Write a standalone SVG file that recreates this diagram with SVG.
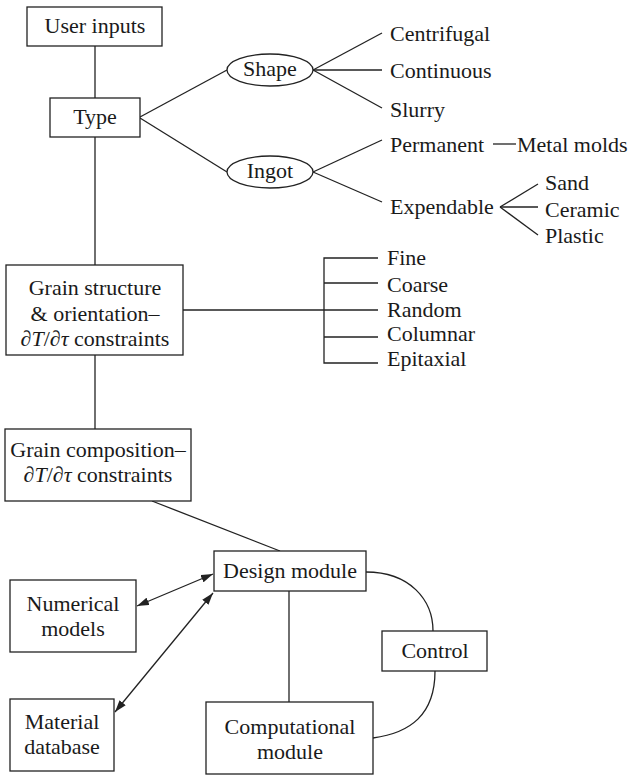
<svg xmlns="http://www.w3.org/2000/svg" width="629" height="775" viewBox="0 0 629 775" font-family="'Liberation Serif', 'Times New Roman', serif" font-size="22">
<style>
.b{fill:#fff;stroke:#222;stroke-width:1.3}
.l{fill:none;stroke:#222;stroke-width:1.3}
text{fill:#1a1a1a}
.c{text-anchor:middle}
.i{font-style:italic}
</style>
<defs>
<marker id="ah" viewBox="0 0 12 8" refX="12" refY="4" markerWidth="12" markerHeight="8" markerUnits="userSpaceOnUse" orient="auto-start-reverse">
<path d="M0,0 L12,4 L0,8 Z" fill="#222"/>
</marker>
</defs>
<g id="connectors">
<line class="l" x1="95" y1="46" x2="95" y2="98"/>
<line class="l" x1="95" y1="137" x2="95" y2="265"/>
<line class="l" x1="95" y1="355" x2="95" y2="429"/>
<line class="l" x1="140" y1="117" x2="227" y2="70"/>
<line class="l" x1="140" y1="118" x2="227" y2="172"/>
<line class="l" x1="313" y1="70" x2="382" y2="33"/>
<line class="l" x1="313" y1="70" x2="382" y2="70"/>
<line class="l" x1="313" y1="70" x2="382" y2="108"/>
<line class="l" x1="313" y1="172" x2="382" y2="140"/>
<line class="l" x1="313" y1="172" x2="382" y2="202"/>
<line class="l" x1="493" y1="144" x2="516" y2="144"/>
<line class="l" x1="538" y1="184" x2="500" y2="207"/>
<line class="l" x1="500" y1="207" x2="538" y2="207"/>
<line class="l" x1="500" y1="207" x2="538" y2="235"/>
<line class="l" x1="183" y1="310" x2="378" y2="310"/>
<path class="l" d="M378,258 H324 V363 H378 M324,283 H378 M324,337 H378"/>
<line class="l" x1="152" y1="501" x2="280" y2="551"/>
<line class="l" x1="137" y1="606" x2="213" y2="574" marker-start="url(#ah)" marker-end="url(#ah)"/>
<line class="l" x1="115" y1="712" x2="213" y2="593" marker-start="url(#ah)" marker-end="url(#ah)"/>
<line class="l" x1="289" y1="591" x2="289" y2="702"/>
<path class="l" d="M366,572 C410,572 433,600 433,631"/>
<path class="l" d="M435,671 C435,715 410,733 373,738"/>
</g>
<g id="user-inputs"><rect class="b" x="27" y="7" width="135" height="39"/><text class="c" x="95" y="33">User inputs</text></g>
<g id="type"><rect class="b" x="50" y="98" width="90" height="39"/><text class="c" x="95" y="124">Type</text></g>
<g id="shape"><ellipse class="b" cx="270" cy="70" rx="43" ry="16"/><text class="c" x="270" y="76">Shape</text></g>
<g id="ingot"><ellipse class="b" cx="270" cy="172" rx="43" ry="16"/><text class="c" x="270" y="178">Ingot</text></g>
<g id="centrifugal"><text x="390" y="41">Centrifugal</text></g>
<g id="continuous"><text x="390" y="78">Continuous</text></g>
<g id="slurry"><text x="390" y="117">Slurry</text></g>
<g id="permanent"><text x="390" y="152">Permanent</text></g>
<g id="metal-molds"><text x="517" y="152">Metal molds</text></g>
<g id="expendable"><text x="390" y="214">Expendable</text></g>
<g id="sand"><text x="545" y="190">Sand</text></g>
<g id="ceramic"><text x="545" y="217">Ceramic</text></g>
<g id="plastic"><text x="545" y="243">Plastic</text></g>
<g id="grain-structure"><rect class="b" x="6" y="265" width="177" height="90"/>
<text class="c" x="95" y="295">Grain structure</text>
<text class="c" x="95" y="321">&amp; orientation–</text>
<text class="c" x="95" y="346">∂<tspan class="i">T</tspan>/∂<tspan class="i">τ</tspan> constraints</text></g>
<g id="fine"><text x="387" y="265">Fine</text></g>
<g id="coarse"><text x="387" y="292">Coarse</text></g>
<g id="random"><text x="387" y="317">Random</text></g>
<g id="columnar"><text x="387" y="341">Columnar</text></g>
<g id="epitaxial"><text x="387" y="366">Epitaxial</text></g>
<g id="grain-composition"><rect class="b" x="5" y="429" width="186" height="72"/>
<text class="c" x="98" y="457">Grain composition–</text>
<text class="c" x="98" y="482">∂<tspan class="i">T</tspan>/∂<tspan class="i">τ</tspan> constraints</text></g>
<g id="design-module"><rect class="b" x="214" y="551" width="152" height="40"/><text class="c" x="290" y="578">Design module</text></g>
<g id="numerical-models"><rect class="b" x="10" y="580" width="126" height="72"/><text class="c" x="73" y="611">Numerical</text><text class="c" x="73" y="636">models</text></g>
<g id="material-database"><rect class="b" x="10" y="699" width="104" height="72"/><text class="c" x="62" y="729">Material</text><text class="c" x="62" y="754">database</text></g>
<g id="computational-module"><rect class="b" x="206" y="702" width="167" height="72"/><text class="c" x="290" y="734">Computational</text><text class="c" x="290" y="759">module</text></g>
<g id="control"><rect class="b" x="382" y="631" width="105" height="40"/><text class="c" x="435" y="658">Control</text></g>
</svg>
